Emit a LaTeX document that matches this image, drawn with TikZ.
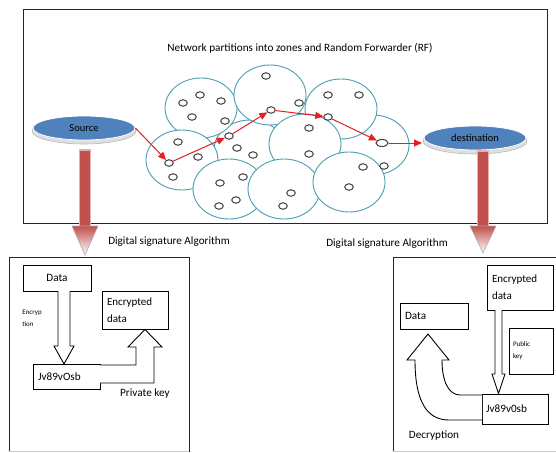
\documentclass[tikz,border=0pt]{standalone}
\usepackage{fontspec}
\setmainfont{Carlito}
\usetikzlibrary{shapes.geometric,arrows.meta}
\definecolor{zoneline}{RGB}{75,158,178}
\definecolor{nodeblue}{RGB}{79,129,189}
\definecolor{hopred}{RGB}{230,30,30}
\definecolor{bigred}{RGB}{192,80,77}
\tikzset{
  zone/.style={ellipse, draw=zoneline, line width=0.9pt, fill=white,
    minimum width=72pt, minimum height=60pt, inner sep=0pt},
  dot/.style={ellipse, draw=black!75, line width=1pt, fill=white,
    minimum width=8.5pt, minimum height=6.5pt, inner sep=0pt},
  hop/.style={draw=hopred, line width=1pt, -{Triangle[length=8pt,width=7pt]}},
  endpoint/.style={ellipse, fill=nodeblue, draw=white, line width=0.8pt,
    minimum width=102pt, minimum height=24pt, inner sep=0pt,
    font=\fontsize{10.5}{12}\selectfont},
  rim/.style={fill=gray!25, draw=gray!55, line width=0.6pt},
  box/.style={draw=black, line width=1pt, fill=white, inner sep=0pt},
  lbl/.style={font=\fontsize{11.2}{13}\selectfont, inner sep=0pt},
  boxtext/.style={font=\fontsize{11}{17}\selectfont, align=left},
  tiny/.style={font=\fontsize{7}{12}\selectfont, inner sep=0pt, align=left},
  hollow/.style={draw=black, line width=0.9pt, fill=white, line join=miter},
  bigshaft/.style={fill=bigred, draw=bigred!45!white, line width=1.2pt},
  bighead/.style={top color=bigred, bottom color=white, draw=gray!65, line width=0.6pt},
  frame/.style={draw=black!85, line width=1pt},
}
\begin{document}
\begin{tikzpicture}[x=1pt,y=-1pt]
\useasboundingbox (0,0) rectangle (556,452);
\fill[white] (0,0) rectangle (556,452);

% network frame and title
\draw[frame] (23,10) rectangle (547,223);
\node[lbl] (title) at (300,48) {Network partitions into zones and Random Forwarder (RF)};

% zones (drawn back to front)
\node[zone] (zmid)  at (250,150) {};
\node[zone] (zr)    at (373,145) {};
\node[zone] (zul)   at (201,108) {};
\node[zone] (ztm)   at (270,95)  {};
\node[zone] (ztr)   at (341,109) {};
\node[zone] (zl)    at (182,160) {};
\node[zone] (zc)    at (305,144) {};
\node[zone] (zbl)   at (229,189) {};
\node[zone] (zbm)   at (284,189) {};
\node[zone] (zbr)   at (349,182) {};

% sensor nodes
\node[dot] (a1) at (183,103) {};
\node[dot] (a2) at (200,95)  {};
\node[dot] (a3) at (221,101) {};
\node[dot] (a4) at (192,117) {};
\node[dot] (a5) at (225,121) {};
\node[dot] (b1) at (178,142) {};
\node[dot] (b2) at (198,157) {};
\node[dot] (p1) at (169,163) {};
\node[dot] (b3) at (173,177) {};
\node[dot] (p2) at (229,136) {};
\node[dot] (c1) at (237,148) {};
\node[dot] (c2) at (253,155) {};
\node[dot] (d1) at (266,76)  {};
\node[dot] (p3) at (271,110) {};
\node[dot] (d2) at (299,103) {};
\node[dot] (e1) at (220,183) {};
\node[dot] (e2) at (243,177) {};
\node[dot] (e3) at (219,206) {};
\node[dot] (e4) at (236,200) {};
\node[dot] (f1) at (328,95)  {};
\node[dot] (f2) at (359,95)  {};
\node[dot] (p4) at (328,117) {};
\node[dot] (g1) at (309,128) {};
\node[dot] (g2) at (309,154) {};
\node[dot, minimum width=12pt, minimum height=7pt] (p5) at (382,143) {};
\node[dot] (h1) at (384,166) {};
\node[dot] (k1) at (363,167) {};
\node[dot] (k2) at (349,187) {};
\node[dot] (m1) at (291,193) {};
\node[dot] (m2) at (283,206) {};

% source and destination
\fill[rim] (84,131) ellipse [x radius=52pt, y radius=13pt];
\node[endpoint] (src) at (84,128) {Source};
\fill[rim] (475,141) ellipse [x radius=52pt, y radius=13pt];
\node[endpoint] (dst) at (475,138) {destination};

% forwarding route
\coordinate (dstin) at (422,143);
\draw[hop] (src.east) -- (p1);
\draw[hop] (p1) -- (p2);
\draw[hop] (p2) -- (p3);
\draw[hop] (p3) -- (p4);
\draw[hop] (p4) -- (p5);
\draw[hop] (p5) -- (dstin);

% thick arrows down to the signature panels
\fill[bigshaft] (79.5,150) rectangle (90.5,228);
\shade[bighead] (72,226) -- (98,226) -- (85,255) -- cycle;
\fill[bigshaft] (477.5,151) rectangle (488.5,228);
\shade[bighead] (470,226) -- (496,226) -- (483,253) -- cycle;

\node[lbl] (dsaL) at (169,242) {Digital signature Algorithm};
\node[lbl] (dsaR) at (387,244) {Digital signature Algorithm};

% ---- signing panel ----
\draw[frame] (9,452) -- (9,257) -- (189,257) -- (189,452);
\draw[gray!40, line width=0.8pt] (9,451) -- (189,451);

\node[box, minimum width=68pt, minimum height=26pt, lbl] (dataL) at (57,278) {Data};
\node[box, minimum width=66pt, minimum height=38pt, text width=56pt, boxtext] (encL) at (135,310) {Encrypted\\data};
\node[box, minimum width=67pt, minimum height=25pt, text width=57pt, lbl, align=left] (keyL) at (66.5,376.5) {Jv89vOsb};

\draw[hollow] (58,291) -- (58,346) -- (54,346) -- (64,364) -- (74,346) -- (70,346) -- (70,291);
\node[tiny] (encr) at (32,318) {Encryp\\tion};

\draw[hollow] (100,365) -- (136,365) -- (136,347) -- (128,347) -- (145,329.5)
  -- (162,347) -- (154,347) -- (154,383) -- (100,383);
\node[lbl, anchor=west] (priv) at (120,394) {Private key};

% ---- verification panel ----
\draw[frame] (393,452) -- (393,257) -- (556,257);
\draw[gray!40, line width=0.8pt] (393,451) -- (556,451);

\node[box, minimum width=66pt, minimum height=45pt, text width=56pt, boxtext] (encR) at (520,287.5) {Encrypted\\data};
\node[box, minimum width=68pt, minimum height=26pt, text width=58pt, lbl, align=left] (dataR) at (434,316) {Data};
\node[box, minimum width=44pt, minimum height=46pt, text width=36pt, tiny] (pub) at (531,351) {Public\\key};
\node[box, minimum width=66pt, minimum height=30pt, text width=58pt, lbl, align=left] (keyR) at (515,409) {Jv89v0sb};

\draw[hollow] (495,310) -- (495,374) -- (492,374) -- (498.5,393.5) -- (505,374) -- (502,374) -- (502,310);

\draw[hollow] (482,420) -- (449,420) .. controls (426,420) and (415,400) .. (415,360)
  -- (407,360) -- (428,334) -- (449,360) -- (442,360)
  .. controls (442,382) and (449,395) .. (460,395) -- (482,395);
\node[lbl] (decr) at (434,436) {Decryption};
\end{tikzpicture}
\end{document}
